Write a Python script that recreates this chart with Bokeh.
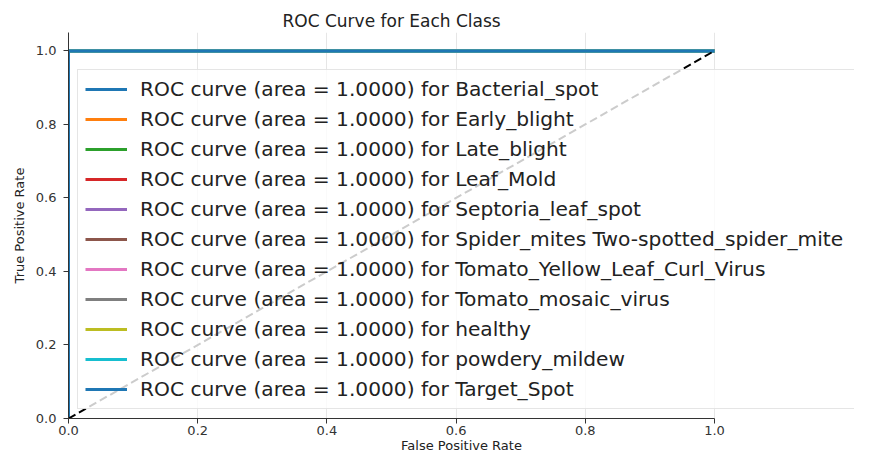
from bokeh.plotting import figure
from bokeh.models import Range1d, FixedTicker, Legend, LegendItem
from bokeh.embed import file_html
from bokeh.resources import INLINE

# ---- data ----
classes = ["Bacterial_spot", "Early_blight", "Late_blight", "Leaf_Mold",
           "Septoria_leaf_spot", "Spider_mites Two-spotted_spider_mite",
           "Tomato_Yellow_Leaf_Curl_Virus", "Tomato_mosaic_virus", "healthy",
           "powdery_mildew", "Target_Spot"]
aucs = [1.0, 1.0, 1.0, 1.0, 1.0, 1.0, 1.0, 1.0, 1.0, 1.0, 1.0]
fpr = [0.0, 0.0, 1.0]
tpr = [0.0, 1.0, 1.0]
diag_x = [0.0, 1.0]
diag_y = [0.0, 1.0]
tick_values = [0.0, 0.2, 0.4, 0.6, 0.8, 1.0]
tick_labels = ["0.0", "0.2", "0.4", "0.6", "0.8", "1.0"]
colors = ["#1f77b4", "#ff7f0e", "#2ca02c", "#d62728", "#9467bd", "#8c564b",
          "#e377c2", "#7f7f7f", "#bcbd22", "#17becf", "#1f77b4"]

FONT = "DejaVu Sans"

W, H = 854, 455
LEFT, TOP = 68, 32
PX_PER_UNIT = 646          # axis 0..1 spans this many pixels
x_end = (W - LEFT) / PX_PER_UNIT   # frame extends past 1.0 so the legend can overflow

p = figure(width=W, height=H, output_backend="svg", toolbar_location=None,
           x_range=Range1d(0, x_end), y_range=Range1d(0, 1.05),
           min_border_left=LEFT, min_border_right=0, min_border_top=TOP,
           min_border_bottom=30, title="ROC Curve for Each Class")
p.outline_line_color = None
p.background_fill_color = "white"
p.border_fill_color = "white"

p.title.align = "left"
p.title.offset = PX_PER_UNIT / 2 - 109
p.title.text_font = FONT
p.title.text_font_size = "17px"
p.title.text_font_style = "normal"
p.title.text_color = "#222222"
p.title.standoff = 4

for ax in (p.xaxis, p.yaxis):
    ax.ticker = FixedTicker(ticks=tick_values)
    ax.major_label_overrides = {v: l for v, l in zip(tick_values, tick_labels)}
    ax.major_label_text_font = FONT
    ax.major_label_text_font_size = "13px"
    ax.major_label_text_color = "#333333"
    ax.axis_label_text_font = FONT
    ax.axis_label_text_font_size = "13px"
    ax.axis_label_text_font_style = "normal"
    ax.axis_label_text_color = "#222222"
    ax.axis_line_color = "#333333"
    ax.axis_line_width = 1
    ax.major_tick_line_color = "#333333"
    ax.major_tick_out = 5
    ax.major_tick_in = 0
    ax.minor_tick_line_color = None

p.xaxis.bounds = (0, 1)
p.xaxis.axis_label = "False Positive Rate"
p.yaxis.axis_label = "True Positive Rate"
p.xaxis.major_label_standoff = 2
p.xaxis.axis_label_standoff = 0
p.yaxis.major_label_standoff = 7
p.yaxis.axis_label_standoff = 6

p.xgrid.ticker = FixedTicker(ticks=tick_values)
p.xgrid.grid_line_color = "#e6e6e6"
p.ygrid.visible = False

items = []
for cls, auc, col in zip(classes, aucs, colors):
    r = p.line(fpr, tpr, line_color=col, line_width=3)
    items.append(LegendItem(label=f"ROC curve (area = {auc:.4f}) for {cls}", renderers=[r]))

p.line(diag_x, diag_y, line_color="black", line_width=2, line_dash="8 4")

legend = Legend(items=items, location=(9, 9))
legend.label_text_font = FONT
legend.label_text_font_size = "20.2px"
legend.label_text_color = "#222222"
legend.glyph_width = 42
legend.glyph_height = 24
legend.label_height = 24
legend.label_width = 760   # the reference legend box runs past the right edge
legend.spacing = 6
legend.padding = 7
legend.label_standoff = 13
legend.margin = 0
legend.border_line_color = "#cccccc"
legend.border_line_width = 1
legend.background_fill_color = "white"
legend.background_fill_alpha = 0.8
p.add_layout(legend, "center")

open("out.html", "w").write(file_html(p, INLINE))
